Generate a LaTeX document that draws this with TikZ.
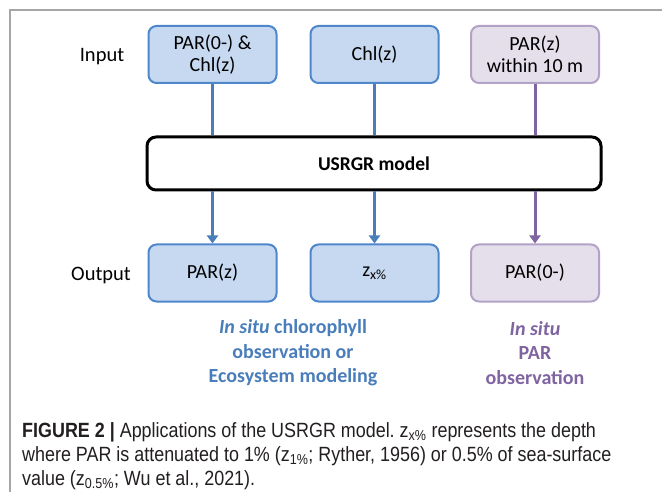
\documentclass[tikz,border=0pt]{standalone}
\usepackage{fontspec}
\setmainfont{Carlito}
\newfontfamily\capfont[FakeStretch=0.87]{Liberation Sans}
\usetikzlibrary{arrows.meta}
\definecolor{bfill}{HTML}{C6D9F1}
\definecolor{bdraw}{HTML}{4F87CC}
\definecolor{pfill}{HTML}{E5DFEC}
\definecolor{pdraw}{HTML}{B3A2C7}
\definecolor{barrow}{HTML}{4A7EBB}
\definecolor{parrow}{HTML}{8064A2}
\definecolor{frame}{HTML}{A6A6A6}
\definecolor{captext}{HTML}{231F20}
\tikzset{
  bluebox/.style={draw=bdraw, fill=bfill, line width=2pt, rounded corners=8pt, minimum width=128pt, minimum height=57pt, align=center, font=\fontsize{20}{22}\selectfont, inner sep=0pt},
  purplebox/.style={bluebox, draw=pdraw, fill=pfill},
  modelbox/.style={draw=black, line width=3pt, rounded corners=9pt, minimum width=454pt, minimum height=53pt, font=\fontsize{19.5}{24}\selectfont\bfseries},
  rowlabel/.style={font=\fontsize{20.5}{24}\selectfont, anchor=base},
  bline/.style={draw=barrow, line width=3pt},
  pline/.style={draw=parrow, line width=3pt},
  barr/.style={bline, -{Triangle[width=11pt,length=8pt]}},
  parr/.style={pline, -{Triangle[width=11pt,length=8pt]}},
  note/.style={align=center, font=\fontsize{20}{24.5}\selectfont\bfseries},
  capline/.style={anchor=base west, inner sep=0pt, text=captext, font=\capfont\fontsize{20.6}{25}\selectfont\frenchspacing},
}
\begin{document}
\begin{tikzpicture}[x=1pt,y=-1pt]
\useasboundingbox (0,0) rectangle (662,492);
\fill[white] (0,0) rectangle (662,492);
\draw[frame, line width=2pt] (662,10) -- (10,10) -- (10,492);
\node[rowlabel] (lin) at (102,61.5) {Input};
\node[rowlabel] (lout) at (101,280.5) {Output};
\node[bluebox] (in1) at (212.5,54.5) {PAR(0-) \&\\Chl(z)};
\node[bluebox] (in2) at (374.5,54.5) {Chl(z)};
\node[purplebox] (in3) at (535,54.5) {PAR(z)\\within 10 m};
\node[modelbox] (model) at (374,163.5) {USRGR model};
\node[bluebox] (out1) at (212.5,273) {PAR(z)};
\node[bluebox] (out2) at (374.5,273) {z\textsubscript{x\%}};
\node[purplebox] (out3) at (535,273) {PAR(0-)};
\draw[bline] (in1.south) -- (in1.south |- model.north);
\draw[bline] (in2.south) -- (in2.south |- model.north);
\draw[pline] (in3.south) -- (in3.south |- model.north);
\draw[barr] (out1.north |- model.south) -- (out1.north);
\draw[barr] (out2.north |- model.south) -- (out2.north);
\draw[parr] (out3.north |- model.south) -- (out3.north);
\node[note, text=barrow] (n1) at (293,353) {\textit{In situ} chlorophyll\\observation or\\Ecosystem modeling};
\node[note, text=parrow] (n2) at (535,353) {\textit{In situ}\\PAR\\observation};
\node[capline] (cap1) at (22,437) {\textbf{FIGURE 2 |} Applications of the USRGR model. z\textsubscript{x\%} represents the depth};
\node[capline] (cap2) at (22,461) {where PAR is attenuated to 1\% (z\textsubscript{1\%}; Ryther, 1956) or 0.5\% of sea-surface};
\node[capline] (cap3) at (22,485) {value (z\textsubscript{0.5\%}; Wu et al., 2021).};
\end{tikzpicture}
\end{document}
